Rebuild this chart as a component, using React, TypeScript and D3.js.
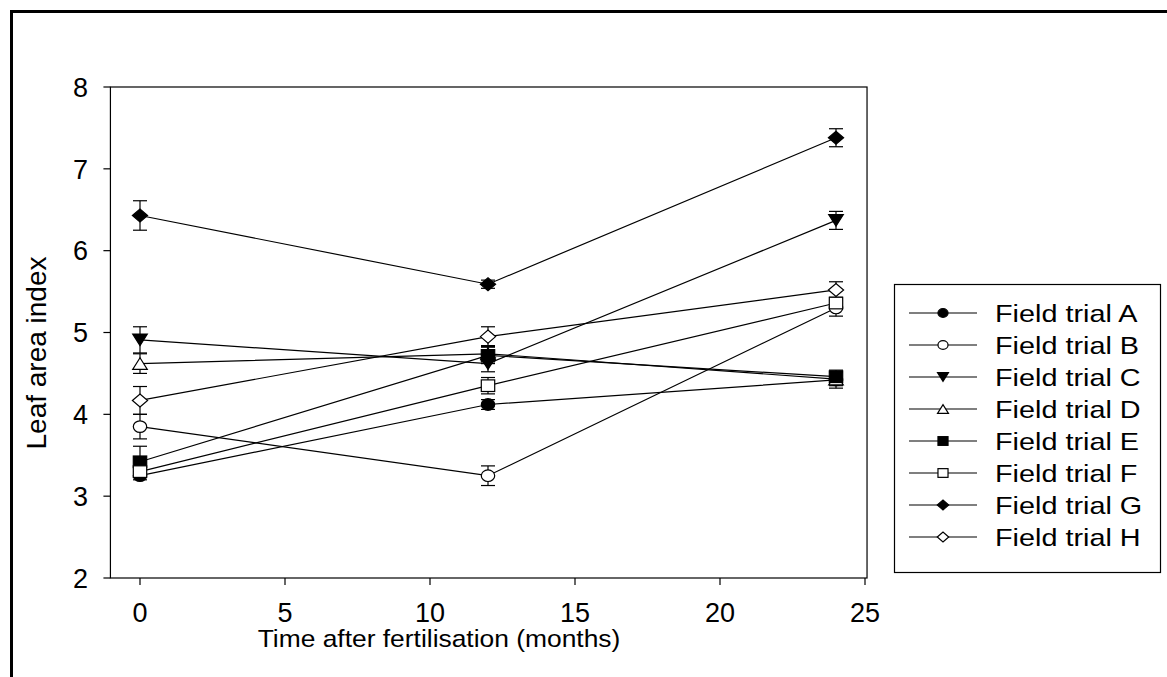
import React from "react";
import * as d3 from "d3";

const months = [0, 12, 24];
const trialNames = ["Field trial A", "Field trial B", "Field trial C", "Field trial D", "Field trial E", "Field trial F", "Field trial G", "Field trial H"];
const trialA = [3.25, 4.12, 4.42];
const trialB = [3.85, 3.25, 5.30];
const trialC = [4.91, 4.62, 6.37];
const trialD = [4.62, 4.74, 4.43];
const trialE = [3.42, 4.72, 4.46];
const trialF = [3.30, 4.35, 5.36];
const trialG = [6.43, 5.59, 7.38];
const trialH = [4.17, 4.95, 5.52];
const errA = [0.05, 0.06, 0.10];
const errB = [0.15, 0.12, 0.10];
const errC = [0.16, 0.10, 0.11];
const errD = [0.12, 0.10, 0.08];
const errE = [0.19, 0.10, 0.08];
const errF = [0.07, 0.10, 0.07];
const errG = [0.18, 0.05, 0.11];
const errH = [0.17, 0.12, 0.10];
const xTicks = [0, 5, 10, 15, 20, 25];
const yTicks = [2, 3, 4, 5, 6, 7, 8];

const values = [trialA, trialB, trialC, trialD, trialE, trialF, trialG, trialH];
const errors = [errA, errB, errC, errD, errE, errF, errG, errH];
const symbols = ["circle", "circle", "tdown", "tup", "square", "square", "diamond", "diamond"];
const filled = [true, false, true, false, true, false, true, false];

const FONT = "'Liberation Sans', Arial, Helvetica, sans-serif";

function marker(kind: string, cx: number, cy: number, s: number, fill: boolean, key: string) {
  const f = fill ? "#000" : "#fff";
  const common = { fill: f, stroke: "#000", strokeWidth: 1.2 };
  const hw = 6.7 * s, hh = 5.8 * s;
  if (kind === "circle") return <ellipse key={key} cx={cx} cy={cy} rx={hw} ry={hh} {...common} />;
  if (kind === "square") return <rect key={key} x={cx - hw} y={cy - hh} width={2 * hw} height={2 * hh} {...common} />;
  if (kind === "diamond") {
    const a = 7.6 * s, b = 6.5 * s;
    return <polygon key={key} points={`${cx - a},${cy} ${cx},${cy - b} ${cx + a},${cy} ${cx},${cy + b}`} {...common} />;
  }
  const a = 7.3 * s, b = 5.8 * s;
  if (kind === "tdown") return <polygon key={key} points={`${cx - a},${cy - b} ${cx + a},${cy - b} ${cx},${cy + b}`} {...common} />;
  return <polygon key={key} points={`${cx - a},${cy + b} ${cx + a},${cy + b} ${cx},${cy - b}`} {...common} />;
}

export default function App() {
  const x = d3.scaleLinear().domain([0, 25]).range([140, 865]);
  const y = d3.scaleLinear().domain([2, 8]).range([578, 87]);
  const left = x(-1.02), right = x(25.07), top = y(8), bottom = y(2);
  const line = d3.line<number>().x((_, i) => x(months[i])).y((v) => y(v));
  const capW = 7;

  return (
    <svg width={1167} height={677} style={{ position: "absolute", left: 0, top: 0, background: "#fff" }} fontFamily={FONT}>
      <rect x={0} y={0} width={1167} height={677} fill="#fff" />
      <rect x={11.5} y={11.5} width={1200} height={720} fill="none" stroke="#000" strokeWidth={3} />
      {/* plot frame */}
      <rect x={left} y={top} width={right - left} height={bottom - top} fill="none" stroke="#000" strokeWidth={1.2} />
      {yTicks.map((t) => (
        <g key={"y" + t}>
          <line x1={left - 7} x2={left} y1={y(t)} y2={y(t)} stroke="#000" strokeWidth={1.2} />
          <text x={88} y={y(t)} dy="0.36em" textAnchor="end" fontSize={27}>{t}</text>
        </g>
      ))}
      {xTicks.map((t) => (
        <g key={"x" + t}>
          <line x1={x(t)} x2={x(t)} y1={bottom} y2={bottom + 7} stroke="#000" strokeWidth={1.2} />
          <text x={x(t)} y={622} textAnchor="middle" fontSize={27}>{t}</text>
        </g>
      ))}
      <text transform="translate(439,647) scale(1.1,1)" textAnchor="middle" fontSize={24}>Time after fertilisation (months)</text>
      <text transform={`translate(46,353) rotate(-90)`} textAnchor="middle" fontSize={28}>Leaf area index</text>
      {/* series lines */}
      {values.map((v, i) => (
        <path key={"l" + i} d={line(v) || ""} fill="none" stroke="#000" strokeWidth={1.2} />
      ))}
      {/* error bars */}
      {values.map((v, i) =>
        v.map((val, j) => {
          const px = x(months[j]);
          const y1 = y(val + errors[i][j]);
          const y2 = y(val - errors[i][j]);
          return (
            <g key={`e${i}-${j}`} stroke="#000" strokeWidth={1.2}>
              <line x1={px} x2={px} y1={y1} y2={y2} />
              <line x1={px - capW} x2={px + capW} y1={y1} y2={y1} />
              <line x1={px - capW} x2={px + capW} y1={y2} y2={y2} />
            </g>
          );
        })
      )}
      {/* markers */}
      {values.map((v, i) => v.map((val, j) => marker(symbols[i], x(months[j]), y(val), 1, filled[i], `m${i}-${j}`)))}
      {/* legend */}
      <rect x={894.5} y={284.5} width={266} height={288} fill="#fff" stroke="#000" strokeWidth={1.2} />
      {trialNames.map((name, i) => {
        const cy = 313 + i * 32;
        return (
          <g key={"lg" + i}>
            <line x1={909} x2={977} y1={cy} y2={cy} stroke="#000" strokeWidth={1.2} />
            {marker(symbols[i], 943, cy, 0.75, filled[i], "lm" + i)}
            <text transform={`translate(995,${cy + 8.6}) scale(1.2,1)`} fontSize={24}>{name}</text>
          </g>
        );
      })}
    </svg>
  );
}
